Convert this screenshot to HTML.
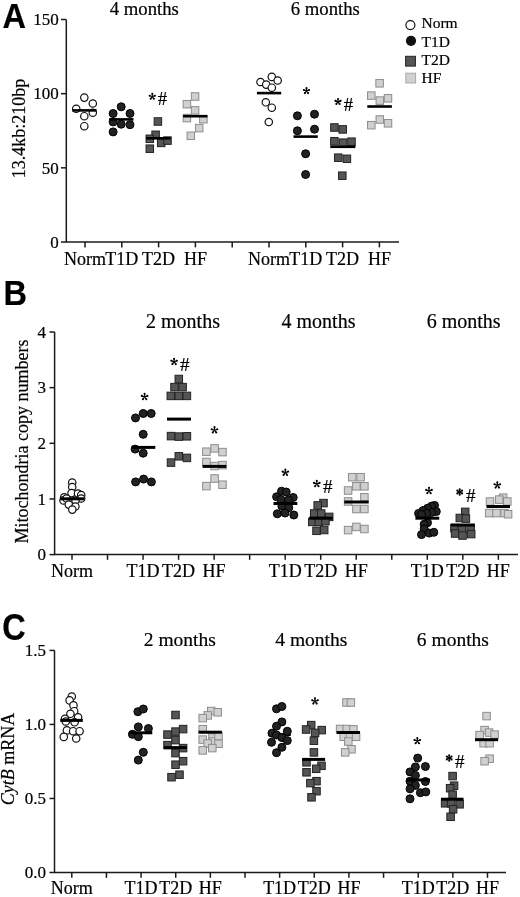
<!DOCTYPE html>
<html><head><meta charset="utf-8"><style>
html,body{margin:0;padding:0;background:#fff;}
body{width:520px;height:897px;overflow:hidden;}
svg{display:block;filter:grayscale(100%);}
text{font-family:"Liberation Serif",serif;fill:#000;stroke:#000;stroke-width:0.2px;}
.ax{stroke:#1a1a1a;stroke-width:1.5;fill:none;}
.pl{font-family:"Liberation Sans",sans-serif;font-weight:bold;font-size:32.5px;fill:#000;}
</style></head><body>
<svg width="520" height="897" viewBox="0 0 520 897">
<rect width="520" height="897" fill="#fff"/>
<line x1="66.3" y1="19.5" x2="66.3" y2="242.0" class="ax"/>
<line x1="65.7" y1="242.0" x2="399" y2="242.0" class="ax"/>
<line x1="61" y1="242.00" x2="66.3" y2="242.00" class="ax"/>
<text x="58.8" y="247.8" font-size="17" text-anchor="end" >0</text>
<line x1="61" y1="167.83" x2="66.3" y2="167.83" class="ax"/>
<text x="58.8" y="173.63333333333333" font-size="17" text-anchor="end" >50</text>
<line x1="61" y1="93.67" x2="66.3" y2="93.67" class="ax"/>
<text x="58.8" y="99.46666666666665" font-size="17" text-anchor="end" >100</text>
<line x1="61" y1="19.50" x2="66.3" y2="19.50" class="ax"/>
<text x="58.8" y="25.3" font-size="17" text-anchor="end" >150</text>
<line x1="85" y1="242.0" x2="85" y2="247.4" class="ax"/>
<line x1="121.8" y1="242.0" x2="121.8" y2="247.4" class="ax"/>
<line x1="158.6" y1="242.0" x2="158.6" y2="247.4" class="ax"/>
<line x1="195.4" y1="242.0" x2="195.4" y2="247.4" class="ax"/>
<line x1="232.2" y1="242.0" x2="232.2" y2="247.4" class="ax"/>
<line x1="269" y1="242.0" x2="269" y2="247.4" class="ax"/>
<line x1="305.8" y1="242.0" x2="305.8" y2="247.4" class="ax"/>
<line x1="342.6" y1="242.0" x2="342.6" y2="247.4" class="ax"/>
<line x1="379.4" y1="242.0" x2="379.4" y2="247.4" class="ax"/>
<text x="85" y="264.5" font-size="18" text-anchor="middle" >Norm</text>
<text x="121.8" y="264.5" font-size="18" text-anchor="middle" >T1D</text>
<text x="158.6" y="264.5" font-size="18" text-anchor="middle" >T2D</text>
<text x="195.4" y="264.5" font-size="18" text-anchor="middle" >HF</text>
<text x="269" y="264.5" font-size="18" text-anchor="middle" >Norm</text>
<text x="305.8" y="264.5" font-size="18" text-anchor="middle" >T1D</text>
<text x="342.6" y="264.5" font-size="18" text-anchor="middle" >T2D</text>
<text x="379.4" y="264.5" font-size="18" text-anchor="middle" >HF</text>
<text x="144.3" y="15.4" font-size="18.7" text-anchor="middle" >4 months</text>
<text x="325.3" y="15.4" font-size="18.7" text-anchor="middle" >6 months</text>
<text x="0" y="0" font-size="18" text-anchor="middle" transform="translate(25,128.4) rotate(-90)">13.4kb:210bp</text>
<circle cx="84.3" cy="97.6" r="3.7" fill="#fff" stroke="#111" stroke-width="1.2"/>
<circle cx="92.8" cy="103.5" r="3.7" fill="#fff" stroke="#111" stroke-width="1.2"/>
<circle cx="76.2" cy="108.8" r="3.7" fill="#fff" stroke="#111" stroke-width="1.2"/>
<circle cx="92.8" cy="112.7" r="3.7" fill="#fff" stroke="#111" stroke-width="1.2"/>
<circle cx="84.3" cy="116.2" r="3.7" fill="#fff" stroke="#111" stroke-width="1.2"/>
<circle cx="84.3" cy="126.2" r="3.7" fill="#fff" stroke="#111" stroke-width="1.2"/>
<line x1="72.3" x2="96.6" y1="110.4" y2="110.4" stroke="#000" stroke-width="2.6"/>
<circle cx="121.2" cy="106.8" r="4.0" fill="#222" stroke="#000" stroke-width="1"/>
<circle cx="113.1" cy="113.5" r="4.0" fill="#222" stroke="#000" stroke-width="1"/>
<circle cx="130" cy="113.5" r="4.0" fill="#222" stroke="#000" stroke-width="1"/>
<circle cx="113.1" cy="121.9" r="4.0" fill="#222" stroke="#000" stroke-width="1"/>
<circle cx="121.2" cy="124.2" r="4.0" fill="#222" stroke="#000" stroke-width="1"/>
<circle cx="130" cy="124.7" r="4.0" fill="#222" stroke="#000" stroke-width="1"/>
<circle cx="113.1" cy="131.9" r="4.0" fill="#222" stroke="#000" stroke-width="1"/>
<line x1="109.2" x2="133.5" y1="119.4" y2="119.4" stroke="#000" stroke-width="2.6"/>
<rect x="154.15" y="117.75" width="7.5" height="7.5" fill="#555" stroke="#222" stroke-width="1"/>
<rect x="151.85" y="131.05" width="7.5" height="7.5" fill="#555" stroke="#222" stroke-width="1"/>
<rect x="146.05" y="135.05" width="7.5" height="7.5" fill="#555" stroke="#222" stroke-width="1"/>
<rect x="157.45" y="139.15" width="7.5" height="7.5" fill="#555" stroke="#222" stroke-width="1"/>
<rect x="163.75" y="136.85" width="7.5" height="7.5" fill="#555" stroke="#222" stroke-width="1"/>
<rect x="146.05" y="144.95" width="7.5" height="7.5" fill="#555" stroke="#222" stroke-width="1"/>
<line x1="146.2" x2="170.6" y1="138.3" y2="138.3" stroke="#000" stroke-width="2.6"/>
<rect x="191.35" y="92.75" width="7.5" height="7.5" fill="#d0d0d0" stroke="#8c8c8c" stroke-width="1"/>
<rect x="183.15" y="100.45" width="7.5" height="7.5" fill="#d0d0d0" stroke="#8c8c8c" stroke-width="1"/>
<rect x="191.35" y="106.65" width="7.5" height="7.5" fill="#d0d0d0" stroke="#8c8c8c" stroke-width="1"/>
<rect x="183.15" y="114.35" width="7.5" height="7.5" fill="#d0d0d0" stroke="#8c8c8c" stroke-width="1"/>
<rect x="199.65" y="115.45" width="7.5" height="7.5" fill="#d0d0d0" stroke="#8c8c8c" stroke-width="1"/>
<rect x="195.45" y="124.35" width="7.5" height="7.5" fill="#d0d0d0" stroke="#8c8c8c" stroke-width="1"/>
<rect x="187.05" y="132.05" width="7.5" height="7.5" fill="#d0d0d0" stroke="#8c8c8c" stroke-width="1"/>
<line x1="183.1" x2="207.4" y1="116.2" y2="116.2" stroke="#000" stroke-width="2.6"/>
<circle cx="271.8" cy="76.9" r="3.7" fill="#fff" stroke="#111" stroke-width="1.2"/>
<circle cx="277.7" cy="80.5" r="3.7" fill="#fff" stroke="#111" stroke-width="1.2"/>
<circle cx="260.5" cy="82" r="3.7" fill="#fff" stroke="#111" stroke-width="1.2"/>
<circle cx="266.2" cy="84.6" r="3.7" fill="#fff" stroke="#111" stroke-width="1.2"/>
<circle cx="271.8" cy="87.7" r="3.7" fill="#fff" stroke="#111" stroke-width="1.2"/>
<circle cx="265.8" cy="102.3" r="3.7" fill="#fff" stroke="#111" stroke-width="1.2"/>
<circle cx="271.8" cy="107.7" r="3.7" fill="#fff" stroke="#111" stroke-width="1.2"/>
<circle cx="268.8" cy="122" r="3.7" fill="#fff" stroke="#111" stroke-width="1.2"/>
<line x1="256.9" x2="281.2" y1="93.1" y2="93.1" stroke="#000" stroke-width="2.6"/>
<circle cx="297.4" cy="115.8" r="4.0" fill="#222" stroke="#000" stroke-width="1"/>
<circle cx="314.5" cy="114.2" r="4.0" fill="#222" stroke="#000" stroke-width="1"/>
<circle cx="297.4" cy="130.8" r="4.0" fill="#222" stroke="#000" stroke-width="1"/>
<circle cx="314.5" cy="129.2" r="4.0" fill="#222" stroke="#000" stroke-width="1"/>
<circle cx="305.6" cy="153.8" r="4.0" fill="#222" stroke="#000" stroke-width="1"/>
<circle cx="305.6" cy="174.5" r="4.0" fill="#222" stroke="#000" stroke-width="1"/>
<line x1="293.5" x2="317.8" y1="136.6" y2="136.6" stroke="#000" stroke-width="2.6"/>
<rect x="330.65" y="123.75" width="7.5" height="7.5" fill="#555" stroke="#222" stroke-width="1"/>
<rect x="338.95" y="125.65" width="7.5" height="7.5" fill="#555" stroke="#222" stroke-width="1"/>
<rect x="330.65" y="137.55" width="7.5" height="7.5" fill="#555" stroke="#222" stroke-width="1"/>
<rect x="339.25" y="138.95" width="7.5" height="7.5" fill="#555" stroke="#222" stroke-width="1"/>
<rect x="347.75" y="137.95" width="7.5" height="7.5" fill="#555" stroke="#222" stroke-width="1"/>
<rect x="334.55" y="153.95" width="7.5" height="7.5" fill="#555" stroke="#222" stroke-width="1"/>
<rect x="343.15" y="155.05" width="7.5" height="7.5" fill="#555" stroke="#222" stroke-width="1"/>
<rect x="338.55" y="171.95" width="7.5" height="7.5" fill="#555" stroke="#222" stroke-width="1"/>
<line x1="330.3" x2="355.4" y1="146.8" y2="146.8" stroke="#000" stroke-width="2.6"/>
<rect x="375.85" y="79.55" width="7.5" height="7.5" fill="#d0d0d0" stroke="#8c8c8c" stroke-width="1"/>
<rect x="367.55" y="91.85" width="7.5" height="7.5" fill="#d0d0d0" stroke="#8c8c8c" stroke-width="1"/>
<rect x="384.25" y="94.55" width="7.5" height="7.5" fill="#d0d0d0" stroke="#8c8c8c" stroke-width="1"/>
<rect x="376.05" y="96.85" width="7.5" height="7.5" fill="#d0d0d0" stroke="#8c8c8c" stroke-width="1"/>
<rect x="376.05" y="115.75" width="7.5" height="7.5" fill="#d0d0d0" stroke="#8c8c8c" stroke-width="1"/>
<rect x="384.25" y="119.55" width="7.5" height="7.5" fill="#d0d0d0" stroke="#8c8c8c" stroke-width="1"/>
<rect x="367.55" y="121.45" width="7.5" height="7.5" fill="#d0d0d0" stroke="#8c8c8c" stroke-width="1"/>
<line x1="367.3" x2="391.9" y1="106.5" y2="106.5" stroke="#000" stroke-width="2.6"/>
<path d="M152.52,96.60 L153.35,93.85 L151.25,93.85 L152.08,96.60Z M153.35,93.85 a1.05,1.05 0 1,0 -2.10,0 a1.05,1.05 0 1,0 2.10,0Z M152.37,96.81 L155.24,96.75 L154.59,94.75 L152.23,96.39Z M155.97,95.75 a1.05,1.05 0 1,0 -2.10,0 a1.05,1.05 0 1,0 2.10,0Z M152.12,96.73 L153.07,99.44 L154.77,98.21 L152.48,96.47Z M154.97,98.82 a1.05,1.05 0 1,0 -2.10,0 a1.05,1.05 0 1,0 2.10,0Z M152.12,96.47 L149.83,98.21 L151.53,99.44 L152.48,96.73Z M151.73,98.82 a1.05,1.05 0 1,0 -2.10,0 a1.05,1.05 0 1,0 2.10,0Z M152.37,96.39 L150.01,94.75 L149.36,96.75 L152.23,96.81Z M150.73,95.75 a1.05,1.05 0 1,0 -2.10,0 a1.05,1.05 0 1,0 2.10,0Z" fill="#000"/>
<text x="157.7" y="105.4" font-size="18.7" text-anchor="start">#</text>
<path d="M306.72,90.90 L307.55,88.15 L305.45,88.15 L306.28,90.90Z M307.55,88.15 a1.05,1.05 0 1,0 -2.10,0 a1.05,1.05 0 1,0 2.10,0Z M306.57,91.11 L309.44,91.05 L308.79,89.05 L306.43,90.69Z M310.17,90.05 a1.05,1.05 0 1,0 -2.10,0 a1.05,1.05 0 1,0 2.10,0Z M306.32,91.03 L307.27,93.74 L308.97,92.51 L306.68,90.77Z M309.17,93.12 a1.05,1.05 0 1,0 -2.10,0 a1.05,1.05 0 1,0 2.10,0Z M306.32,90.77 L304.03,92.51 L305.73,93.74 L306.68,91.03Z M305.93,93.12 a1.05,1.05 0 1,0 -2.10,0 a1.05,1.05 0 1,0 2.10,0Z M306.57,90.69 L304.21,89.05 L303.56,91.05 L306.43,91.11Z M304.93,90.05 a1.05,1.05 0 1,0 -2.10,0 a1.05,1.05 0 1,0 2.10,0Z" fill="#000"/>
<path d="M338.22,101.70 L339.05,98.95 L336.95,98.95 L337.78,101.70Z M339.05,98.95 a1.05,1.05 0 1,0 -2.10,0 a1.05,1.05 0 1,0 2.10,0Z M338.07,101.91 L340.94,101.85 L340.29,99.85 L337.93,101.49Z M341.67,100.85 a1.05,1.05 0 1,0 -2.10,0 a1.05,1.05 0 1,0 2.10,0Z M337.82,101.83 L338.77,104.54 L340.47,103.31 L338.18,101.57Z M340.67,103.92 a1.05,1.05 0 1,0 -2.10,0 a1.05,1.05 0 1,0 2.10,0Z M337.82,101.57 L335.53,103.31 L337.23,104.54 L338.18,101.83Z M337.43,103.92 a1.05,1.05 0 1,0 -2.10,0 a1.05,1.05 0 1,0 2.10,0Z M338.07,101.49 L335.71,99.85 L335.06,101.85 L337.93,101.91Z M336.43,100.85 a1.05,1.05 0 1,0 -2.10,0 a1.05,1.05 0 1,0 2.10,0Z" fill="#000"/>
<text x="343.8" y="110.8" font-size="18.7" text-anchor="start">#</text>
<circle cx="410.4" cy="25.1" r="4.5" fill="#fff" stroke="#111" stroke-width="1.2"/>
<circle cx="411" cy="40.8" r="5.1" fill="#111"/>
<rect x="405.6" y="56.3" width="9.8" height="9.8" fill="#555" stroke="#222" stroke-width="1"/>
<rect x="405.8" y="73.2" width="9.8" height="9.8" fill="#d0d0d0" stroke="#aaa" stroke-width="1"/>
<text x="421.5" y="28.4" font-size="15.5" text-anchor="start" >Norm</text>
<text x="421.5" y="46.5" font-size="15.5" text-anchor="start" >T1D</text>
<text x="421.5" y="64.6" font-size="15.5" text-anchor="start" >T2D</text>
<text x="421.5" y="82.5" font-size="15.5" text-anchor="start" >HF</text>
<text x="0" y="0" class="pl" transform="translate(2.6,27.7) scale(1,1.08)">A</text>
<text x="0" y="0" class="pl" transform="translate(3.4,305) scale(1,1.09)">B</text>
<text x="0" y="0" class="pl" transform="translate(2.2,639.6) scale(1,1.12)">C</text>
<line x1="54.6" y1="332.0" x2="54.6" y2="554.6" class="ax"/>
<line x1="54.0" y1="554.6" x2="518" y2="554.6" class="ax"/>
<line x1="49.5" y1="554.60" x2="54.6" y2="554.60" class="ax"/>
<text x="46" y="560.4" font-size="17" text-anchor="end" >0</text>
<line x1="49.5" y1="498.95" x2="54.6" y2="498.95" class="ax"/>
<text x="46" y="504.75000000000006" font-size="17" text-anchor="end" >1</text>
<line x1="49.5" y1="443.30" x2="54.6" y2="443.30" class="ax"/>
<text x="46" y="449.1" font-size="17" text-anchor="end" >2</text>
<line x1="49.5" y1="387.65" x2="54.6" y2="387.65" class="ax"/>
<text x="46" y="393.45" font-size="17" text-anchor="end" >3</text>
<line x1="49.5" y1="332.00" x2="54.6" y2="332.00" class="ax"/>
<text x="46" y="337.8" font-size="17" text-anchor="end" >4</text>
<line x1="72.00" y1="554.6" x2="72.00" y2="559.8000000000001" class="ax"/>
<line x1="107.53" y1="554.6" x2="107.53" y2="559.8000000000001" class="ax"/>
<line x1="143.06" y1="554.6" x2="143.06" y2="559.8000000000001" class="ax"/>
<line x1="178.59" y1="554.6" x2="178.59" y2="559.8000000000001" class="ax"/>
<line x1="214.12" y1="554.6" x2="214.12" y2="559.8000000000001" class="ax"/>
<line x1="249.65" y1="554.6" x2="249.65" y2="559.8000000000001" class="ax"/>
<line x1="285.18" y1="554.6" x2="285.18" y2="559.8000000000001" class="ax"/>
<line x1="320.71" y1="554.6" x2="320.71" y2="559.8000000000001" class="ax"/>
<line x1="356.24" y1="554.6" x2="356.24" y2="559.8000000000001" class="ax"/>
<line x1="391.77" y1="554.6" x2="391.77" y2="559.8000000000001" class="ax"/>
<line x1="427.30" y1="554.6" x2="427.30" y2="559.8000000000001" class="ax"/>
<line x1="462.83" y1="554.6" x2="462.83" y2="559.8000000000001" class="ax"/>
<line x1="498.36" y1="554.6" x2="498.36" y2="559.8000000000001" class="ax"/>
<text x="72.00" y="576.8" font-size="18" text-anchor="middle" >Norm</text>
<text x="143.06" y="576.8" font-size="18" text-anchor="middle" >T1D</text>
<text x="178.59" y="576.8" font-size="18" text-anchor="middle" >T2D</text>
<text x="214.12" y="576.8" font-size="18" text-anchor="middle" >HF</text>
<text x="285.18" y="576.8" font-size="18" text-anchor="middle" >T1D</text>
<text x="320.71" y="576.8" font-size="18" text-anchor="middle" >T2D</text>
<text x="356.24" y="576.8" font-size="18" text-anchor="middle" >HF</text>
<text x="427.30" y="576.8" font-size="18" text-anchor="middle" >T1D</text>
<text x="462.83" y="576.8" font-size="18" text-anchor="middle" >T2D</text>
<text x="498.36" y="576.8" font-size="18" text-anchor="middle" >HF</text>
<text x="183" y="327.5" font-size="20" text-anchor="middle" >2 months</text>
<text x="318.5" y="327.5" font-size="20" text-anchor="middle" >4 months</text>
<text x="463.7" y="327.5" font-size="20" text-anchor="middle" >6 months</text>
<text x="0" y="0" font-size="18" text-anchor="middle" transform="translate(27.8,441.5) rotate(-90)">Mitochondria copy numbers</text>
<circle cx="72.2" cy="482.5" r="3.7" fill="#fff" stroke="#111" stroke-width="1.2"/>
<circle cx="72.2" cy="487" r="3.7" fill="#fff" stroke="#111" stroke-width="1.2"/>
<circle cx="71.5" cy="493.1" r="3.7" fill="#fff" stroke="#111" stroke-width="1.2"/>
<circle cx="78" cy="493.5" r="3.7" fill="#fff" stroke="#111" stroke-width="1.2"/>
<circle cx="81.2" cy="495" r="3.7" fill="#fff" stroke="#111" stroke-width="1.2"/>
<circle cx="64.2" cy="497.3" r="3.7" fill="#fff" stroke="#111" stroke-width="1.2"/>
<circle cx="63.5" cy="500.4" r="3.7" fill="#fff" stroke="#111" stroke-width="1.2"/>
<circle cx="81.2" cy="498.5" r="3.7" fill="#fff" stroke="#111" stroke-width="1.2"/>
<circle cx="66.5" cy="498.5" r="3.7" fill="#fff" stroke="#111" stroke-width="1.2"/>
<circle cx="75.5" cy="500.5" r="3.7" fill="#fff" stroke="#111" stroke-width="1.2"/>
<circle cx="68.8" cy="504.6" r="3.7" fill="#fff" stroke="#111" stroke-width="1.2"/>
<circle cx="75.4" cy="506.5" r="3.7" fill="#fff" stroke="#111" stroke-width="1.2"/>
<circle cx="72.3" cy="509.6" r="3.7" fill="#fff" stroke="#111" stroke-width="1.2"/>
<line x1="60.2" x2="84.2" y1="498.8" y2="498.8" stroke="#000" stroke-width="3.0"/>
<circle cx="135.5" cy="417.9" r="4.0" fill="#222" stroke="#000" stroke-width="1"/>
<circle cx="143.2" cy="413.5" r="4.0" fill="#222" stroke="#000" stroke-width="1"/>
<circle cx="151.2" cy="413.5" r="4.0" fill="#222" stroke="#000" stroke-width="1"/>
<circle cx="143.2" cy="434.3" r="4.0" fill="#222" stroke="#000" stroke-width="1"/>
<circle cx="135.1" cy="449.1" r="4.0" fill="#222" stroke="#000" stroke-width="1"/>
<circle cx="143.2" cy="453.2" r="4.0" fill="#222" stroke="#000" stroke-width="1"/>
<circle cx="135.6" cy="481.9" r="4.0" fill="#222" stroke="#000" stroke-width="1"/>
<circle cx="143.6" cy="479.1" r="4.0" fill="#222" stroke="#000" stroke-width="1"/>
<circle cx="151.4" cy="481.9" r="4.0" fill="#222" stroke="#000" stroke-width="1"/>
<line x1="131.7" x2="155.3" y1="447.4" y2="447.4" stroke="#000" stroke-width="3.0"/>
<rect x="175.05" y="375.25" width="7.5" height="7.5" fill="#555" stroke="#222" stroke-width="1"/>
<rect x="170.75" y="383.35" width="7.5" height="7.5" fill="#555" stroke="#222" stroke-width="1"/>
<rect x="178.85" y="383.35" width="7.5" height="7.5" fill="#555" stroke="#222" stroke-width="1"/>
<rect x="167.05" y="392.15" width="7.5" height="7.5" fill="#555" stroke="#222" stroke-width="1"/>
<rect x="175.05" y="392.15" width="7.5" height="7.5" fill="#555" stroke="#222" stroke-width="1"/>
<rect x="183.15" y="392.15" width="7.5" height="7.5" fill="#555" stroke="#222" stroke-width="1"/>
<rect x="167.25" y="432.35" width="7.5" height="7.5" fill="#555" stroke="#222" stroke-width="1"/>
<rect x="175.05" y="432.85" width="7.5" height="7.5" fill="#555" stroke="#222" stroke-width="1"/>
<rect x="183.15" y="432.55" width="7.5" height="7.5" fill="#555" stroke="#222" stroke-width="1"/>
<rect x="175.05" y="452.55" width="7.5" height="7.5" fill="#555" stroke="#222" stroke-width="1"/>
<rect x="183.15" y="454.15" width="7.5" height="7.5" fill="#555" stroke="#222" stroke-width="1"/>
<rect x="167.25" y="458.85" width="7.5" height="7.5" fill="#555" stroke="#222" stroke-width="1"/>
<line x1="167" x2="191" y1="419.1" y2="419.1" stroke="#000" stroke-width="3.0"/>
<rect x="210.85" y="444.65" width="7.5" height="7.5" fill="#d0d0d0" stroke="#8c8c8c" stroke-width="1"/>
<rect x="202.65" y="447.95" width="7.5" height="7.5" fill="#d0d0d0" stroke="#8c8c8c" stroke-width="1"/>
<rect x="218.75" y="448.35" width="7.5" height="7.5" fill="#d0d0d0" stroke="#8c8c8c" stroke-width="1"/>
<rect x="202.65" y="458.25" width="7.5" height="7.5" fill="#d0d0d0" stroke="#8c8c8c" stroke-width="1"/>
<rect x="210.85" y="462.25" width="7.5" height="7.5" fill="#d0d0d0" stroke="#8c8c8c" stroke-width="1"/>
<rect x="218.75" y="461.35" width="7.5" height="7.5" fill="#d0d0d0" stroke="#8c8c8c" stroke-width="1"/>
<rect x="210.85" y="474.75" width="7.5" height="7.5" fill="#d0d0d0" stroke="#8c8c8c" stroke-width="1"/>
<rect x="218.75" y="480.95" width="7.5" height="7.5" fill="#d0d0d0" stroke="#8c8c8c" stroke-width="1"/>
<rect x="202.65" y="482.35" width="7.5" height="7.5" fill="#d0d0d0" stroke="#8c8c8c" stroke-width="1"/>
<line x1="202.6" x2="226.3" y1="466.4" y2="466.4" stroke="#000" stroke-width="3.0"/>
<path d="M144.82,396.80 L145.65,393.85 L143.55,393.85 L144.38,396.80Z M145.65,393.85 a1.05,1.05 0 1,0 -2.10,0 a1.05,1.05 0 1,0 2.10,0Z M144.67,397.01 L147.73,396.89 L147.08,394.89 L144.53,396.59Z M148.46,395.89 a1.05,1.05 0 1,0 -2.10,0 a1.05,1.05 0 1,0 2.10,0Z M144.42,396.93 L145.48,399.80 L147.18,398.57 L144.78,396.67Z M147.38,399.19 a1.05,1.05 0 1,0 -2.10,0 a1.05,1.05 0 1,0 2.10,0Z M144.42,396.67 L142.02,398.57 L143.72,399.80 L144.78,396.93Z M143.92,399.19 a1.05,1.05 0 1,0 -2.10,0 a1.05,1.05 0 1,0 2.10,0Z M144.67,396.59 L142.12,394.89 L141.47,396.89 L144.53,397.01Z M142.84,395.89 a1.05,1.05 0 1,0 -2.10,0 a1.05,1.05 0 1,0 2.10,0Z" fill="#000"/>
<path d="M174.32,361.70 L175.15,358.75 L173.05,358.75 L173.88,361.70Z M175.15,358.75 a1.05,1.05 0 1,0 -2.10,0 a1.05,1.05 0 1,0 2.10,0Z M174.17,361.91 L177.23,361.79 L176.58,359.79 L174.03,361.49Z M177.96,360.79 a1.05,1.05 0 1,0 -2.10,0 a1.05,1.05 0 1,0 2.10,0Z M173.92,361.83 L174.98,364.70 L176.68,363.47 L174.28,361.57Z M176.88,364.09 a1.05,1.05 0 1,0 -2.10,0 a1.05,1.05 0 1,0 2.10,0Z M173.92,361.57 L171.52,363.47 L173.22,364.70 L174.28,361.83Z M173.42,364.09 a1.05,1.05 0 1,0 -2.10,0 a1.05,1.05 0 1,0 2.10,0Z M174.17,361.49 L171.62,359.79 L170.97,361.79 L174.03,361.91Z M172.34,360.79 a1.05,1.05 0 1,0 -2.10,0 a1.05,1.05 0 1,0 2.10,0Z" fill="#000"/>
<text x="180.1" y="370.8" font-size="19" text-anchor="start">#</text>
<path d="M214.72,430.10 L215.55,427.15 L213.45,427.15 L214.28,430.10Z M215.55,427.15 a1.05,1.05 0 1,0 -2.10,0 a1.05,1.05 0 1,0 2.10,0Z M214.57,430.31 L217.63,430.19 L216.98,428.19 L214.43,429.89Z M218.36,429.19 a1.05,1.05 0 1,0 -2.10,0 a1.05,1.05 0 1,0 2.10,0Z M214.32,430.23 L215.38,433.10 L217.08,431.87 L214.68,429.97Z M217.28,432.49 a1.05,1.05 0 1,0 -2.10,0 a1.05,1.05 0 1,0 2.10,0Z M214.32,429.97 L211.92,431.87 L213.62,433.10 L214.68,430.23Z M213.82,432.49 a1.05,1.05 0 1,0 -2.10,0 a1.05,1.05 0 1,0 2.10,0Z M214.57,429.89 L212.02,428.19 L211.37,430.19 L214.43,430.31Z M212.74,429.19 a1.05,1.05 0 1,0 -2.10,0 a1.05,1.05 0 1,0 2.10,0Z" fill="#000"/>
<circle cx="281.5" cy="491.2" r="4.0" fill="#222" stroke="#000" stroke-width="1"/>
<circle cx="286.2" cy="492" r="4.0" fill="#222" stroke="#000" stroke-width="1"/>
<circle cx="276.6" cy="496.8" r="4.0" fill="#222" stroke="#000" stroke-width="1"/>
<circle cx="293.2" cy="497.5" r="4.0" fill="#222" stroke="#000" stroke-width="1"/>
<circle cx="281" cy="499.5" r="4.0" fill="#222" stroke="#000" stroke-width="1"/>
<circle cx="288.5" cy="500" r="4.0" fill="#222" stroke="#000" stroke-width="1"/>
<circle cx="281.9" cy="506.2" r="4.0" fill="#222" stroke="#000" stroke-width="1"/>
<circle cx="288.8" cy="507.7" r="4.0" fill="#222" stroke="#000" stroke-width="1"/>
<circle cx="277.3" cy="513.8" r="4.0" fill="#222" stroke="#000" stroke-width="1"/>
<circle cx="285" cy="513" r="4.0" fill="#222" stroke="#000" stroke-width="1"/>
<circle cx="293.8" cy="515" r="4.0" fill="#222" stroke="#000" stroke-width="1"/>
<line x1="273.5" x2="297.3" y1="503.5" y2="503.5" stroke="#000" stroke-width="3.0"/>
<rect x="319.75" y="499.35" width="7.5" height="7.5" fill="#555" stroke="#222" stroke-width="1"/>
<rect x="313.95" y="501.65" width="7.5" height="7.5" fill="#555" stroke="#222" stroke-width="1"/>
<rect x="310.45" y="509.75" width="7.5" height="7.5" fill="#555" stroke="#222" stroke-width="1"/>
<rect x="317.45" y="509.75" width="7.5" height="7.5" fill="#555" stroke="#222" stroke-width="1"/>
<rect x="325.45" y="513.15" width="7.5" height="7.5" fill="#555" stroke="#222" stroke-width="1"/>
<rect x="308.55" y="518.15" width="7.5" height="7.5" fill="#555" stroke="#222" stroke-width="1"/>
<rect x="315.05" y="518.15" width="7.5" height="7.5" fill="#555" stroke="#222" stroke-width="1"/>
<rect x="321.65" y="517.45" width="7.5" height="7.5" fill="#555" stroke="#222" stroke-width="1"/>
<rect x="312.75" y="527.05" width="7.5" height="7.5" fill="#555" stroke="#222" stroke-width="1"/>
<rect x="320.45" y="526.25" width="7.5" height="7.5" fill="#555" stroke="#222" stroke-width="1"/>
<line x1="309.2" x2="332.7" y1="518.2" y2="518.2" stroke="#000" stroke-width="3.0"/>
<rect x="348.45" y="473.45" width="7.5" height="7.5" fill="#d0d0d0" stroke="#8c8c8c" stroke-width="1"/>
<rect x="356.85" y="473.45" width="7.5" height="7.5" fill="#d0d0d0" stroke="#8c8c8c" stroke-width="1"/>
<rect x="352.65" y="482.55" width="7.5" height="7.5" fill="#d0d0d0" stroke="#8c8c8c" stroke-width="1"/>
<rect x="360.65" y="482.55" width="7.5" height="7.5" fill="#d0d0d0" stroke="#8c8c8c" stroke-width="1"/>
<rect x="344.35" y="486.75" width="7.5" height="7.5" fill="#d0d0d0" stroke="#8c8c8c" stroke-width="1"/>
<rect x="360.65" y="493.55" width="7.5" height="7.5" fill="#d0d0d0" stroke="#8c8c8c" stroke-width="1"/>
<rect x="344.35" y="497.75" width="7.5" height="7.5" fill="#d0d0d0" stroke="#8c8c8c" stroke-width="1"/>
<rect x="352.65" y="505.25" width="7.5" height="7.5" fill="#d0d0d0" stroke="#8c8c8c" stroke-width="1"/>
<rect x="360.65" y="505.25" width="7.5" height="7.5" fill="#d0d0d0" stroke="#8c8c8c" stroke-width="1"/>
<rect x="352.65" y="523.15" width="7.5" height="7.5" fill="#d0d0d0" stroke="#8c8c8c" stroke-width="1"/>
<rect x="360.65" y="525.25" width="7.5" height="7.5" fill="#d0d0d0" stroke="#8c8c8c" stroke-width="1"/>
<rect x="344.35" y="526.35" width="7.5" height="7.5" fill="#d0d0d0" stroke="#8c8c8c" stroke-width="1"/>
<line x1="344.3" x2="368.7" y1="502" y2="502" stroke="#000" stroke-width="3.0"/>
<path d="M285.52,472.50 L286.35,469.55 L284.25,469.55 L285.08,472.50Z M286.35,469.55 a1.05,1.05 0 1,0 -2.10,0 a1.05,1.05 0 1,0 2.10,0Z M285.37,472.71 L288.43,472.59 L287.78,470.59 L285.23,472.29Z M289.16,471.59 a1.05,1.05 0 1,0 -2.10,0 a1.05,1.05 0 1,0 2.10,0Z M285.12,472.63 L286.18,475.50 L287.88,474.27 L285.48,472.37Z M288.08,474.89 a1.05,1.05 0 1,0 -2.10,0 a1.05,1.05 0 1,0 2.10,0Z M285.12,472.37 L282.72,474.27 L284.42,475.50 L285.48,472.63Z M284.62,474.89 a1.05,1.05 0 1,0 -2.10,0 a1.05,1.05 0 1,0 2.10,0Z M285.37,472.29 L282.82,470.59 L282.17,472.59 L285.23,472.71Z M283.54,471.59 a1.05,1.05 0 1,0 -2.10,0 a1.05,1.05 0 1,0 2.10,0Z" fill="#000"/>
<path d="M317.02,483.80 L317.85,480.85 L315.75,480.85 L316.58,483.80Z M317.85,480.85 a1.05,1.05 0 1,0 -2.10,0 a1.05,1.05 0 1,0 2.10,0Z M316.87,484.01 L319.93,483.89 L319.28,481.89 L316.73,483.59Z M320.66,482.89 a1.05,1.05 0 1,0 -2.10,0 a1.05,1.05 0 1,0 2.10,0Z M316.62,483.93 L317.68,486.80 L319.38,485.57 L316.98,483.67Z M319.58,486.19 a1.05,1.05 0 1,0 -2.10,0 a1.05,1.05 0 1,0 2.10,0Z M316.62,483.67 L314.22,485.57 L315.92,486.80 L316.98,483.93Z M316.12,486.19 a1.05,1.05 0 1,0 -2.10,0 a1.05,1.05 0 1,0 2.10,0Z M316.87,483.59 L314.32,481.89 L313.67,483.89 L316.73,484.01Z M315.04,482.89 a1.05,1.05 0 1,0 -2.10,0 a1.05,1.05 0 1,0 2.10,0Z" fill="#000"/>
<text x="323" y="493" font-size="19" text-anchor="start">#</text>
<circle cx="434.5" cy="505.4" r="4.0" fill="#222" stroke="#000" stroke-width="1"/>
<circle cx="431.5" cy="506.2" r="4.0" fill="#222" stroke="#000" stroke-width="1"/>
<circle cx="427.5" cy="508.3" r="4.0" fill="#222" stroke="#000" stroke-width="1"/>
<circle cx="423" cy="510.6" r="4.0" fill="#222" stroke="#000" stroke-width="1"/>
<circle cx="418.6" cy="513.4" r="4.0" fill="#222" stroke="#000" stroke-width="1"/>
<circle cx="436.3" cy="511.5" r="4.0" fill="#222" stroke="#000" stroke-width="1"/>
<circle cx="431.5" cy="512.5" r="4.0" fill="#222" stroke="#000" stroke-width="1"/>
<circle cx="426.5" cy="513.5" r="4.0" fill="#222" stroke="#000" stroke-width="1"/>
<circle cx="421.5" cy="514.5" r="4.0" fill="#222" stroke="#000" stroke-width="1"/>
<circle cx="427.5" cy="522.7" r="4.0" fill="#222" stroke="#000" stroke-width="1"/>
<circle cx="424.2" cy="524.2" r="4.0" fill="#222" stroke="#000" stroke-width="1"/>
<circle cx="424.2" cy="528.8" r="4.0" fill="#222" stroke="#000" stroke-width="1"/>
<circle cx="421.5" cy="534.6" r="4.0" fill="#222" stroke="#000" stroke-width="1"/>
<circle cx="429.2" cy="533.1" r="4.0" fill="#222" stroke="#000" stroke-width="1"/>
<circle cx="433.8" cy="532.3" r="4.0" fill="#222" stroke="#000" stroke-width="1"/>
<line x1="415.4" x2="439.2" y1="518.2" y2="518.2" stroke="#000" stroke-width="3.0"/>
<rect x="461.45" y="508.15" width="7.5" height="7.5" fill="#555" stroke="#222" stroke-width="1"/>
<rect x="456.05" y="514.25" width="7.5" height="7.5" fill="#555" stroke="#222" stroke-width="1"/>
<rect x="462.15" y="514.85" width="7.5" height="7.5" fill="#555" stroke="#222" stroke-width="1"/>
<rect x="450.65" y="524.35" width="7.5" height="7.5" fill="#555" stroke="#222" stroke-width="1"/>
<rect x="458.05" y="525.65" width="7.5" height="7.5" fill="#555" stroke="#222" stroke-width="1"/>
<rect x="466.85" y="525.65" width="7.5" height="7.5" fill="#555" stroke="#222" stroke-width="1"/>
<rect x="451.35" y="529.75" width="7.5" height="7.5" fill="#555" stroke="#222" stroke-width="1"/>
<rect x="458.75" y="531.75" width="7.5" height="7.5" fill="#555" stroke="#222" stroke-width="1"/>
<rect x="467.45" y="530.35" width="7.5" height="7.5" fill="#555" stroke="#222" stroke-width="1"/>
<line x1="451" x2="474.9" y1="525" y2="525" stroke="#000" stroke-width="3.0"/>
<rect x="499.35" y="493.95" width="7.5" height="7.5" fill="#d0d0d0" stroke="#8c8c8c" stroke-width="1"/>
<rect x="495.45" y="495.85" width="7.5" height="7.5" fill="#d0d0d0" stroke="#8c8c8c" stroke-width="1"/>
<rect x="486.25" y="497.75" width="7.5" height="7.5" fill="#d0d0d0" stroke="#8c8c8c" stroke-width="1"/>
<rect x="503.55" y="497.75" width="7.5" height="7.5" fill="#d0d0d0" stroke="#8c8c8c" stroke-width="1"/>
<rect x="485.45" y="509.35" width="7.5" height="7.5" fill="#d0d0d0" stroke="#8c8c8c" stroke-width="1"/>
<rect x="492.75" y="509.35" width="7.5" height="7.5" fill="#d0d0d0" stroke="#8c8c8c" stroke-width="1"/>
<rect x="500.85" y="509.35" width="7.5" height="7.5" fill="#d0d0d0" stroke="#8c8c8c" stroke-width="1"/>
<rect x="504.35" y="510.45" width="7.5" height="7.5" fill="#d0d0d0" stroke="#8c8c8c" stroke-width="1"/>
<line x1="486.5" x2="510" y1="506.5" y2="506.5" stroke="#000" stroke-width="3.0"/>
<path d="M429.22,490.80 L430.05,487.85 L427.95,487.85 L428.78,490.80Z M430.05,487.85 a1.05,1.05 0 1,0 -2.10,0 a1.05,1.05 0 1,0 2.10,0Z M429.07,491.01 L432.13,490.89 L431.48,488.89 L428.93,490.59Z M432.86,489.89 a1.05,1.05 0 1,0 -2.10,0 a1.05,1.05 0 1,0 2.10,0Z M428.82,490.93 L429.88,493.80 L431.58,492.57 L429.18,490.67Z M431.78,493.19 a1.05,1.05 0 1,0 -2.10,0 a1.05,1.05 0 1,0 2.10,0Z M428.82,490.67 L426.42,492.57 L428.12,493.80 L429.18,490.93Z M428.32,493.19 a1.05,1.05 0 1,0 -2.10,0 a1.05,1.05 0 1,0 2.10,0Z M429.07,490.59 L426.52,488.89 L425.87,490.89 L428.93,491.01Z M427.24,489.89 a1.05,1.05 0 1,0 -2.10,0 a1.05,1.05 0 1,0 2.10,0Z" fill="#000"/>
<path d="M459.92,492.00 L460.75,489.25 L458.65,489.25 L459.48,492.00Z M460.75,489.25 a1.05,1.05 0 1,0 -2.10,0 a1.05,1.05 0 1,0 2.10,0Z M459.81,492.19 L462.61,491.53 L461.56,489.72 L459.59,491.81Z M463.13,490.62 a1.05,1.05 0 1,0 -2.10,0 a1.05,1.05 0 1,0 2.10,0Z M459.59,492.19 L461.56,494.28 L462.61,492.47 L459.81,491.81Z M463.13,493.38 a1.05,1.05 0 1,0 -2.10,0 a1.05,1.05 0 1,0 2.10,0Z M459.48,492.00 L458.65,494.75 L460.75,494.75 L459.92,492.00Z M460.75,494.75 a1.05,1.05 0 1,0 -2.10,0 a1.05,1.05 0 1,0 2.10,0Z M459.59,491.81 L456.79,492.47 L457.84,494.28 L459.81,492.19Z M458.37,493.38 a1.05,1.05 0 1,0 -2.10,0 a1.05,1.05 0 1,0 2.10,0Z M459.81,491.81 L457.84,489.72 L456.79,491.53 L459.59,492.19Z M458.37,490.62 a1.05,1.05 0 1,0 -2.10,0 a1.05,1.05 0 1,0 2.10,0Z" fill="#000"/>
<text x="466.1" y="501.8" font-size="19" text-anchor="start">#</text>
<path d="M497.52,485.20 L498.35,482.25 L496.25,482.25 L497.08,485.20Z M498.35,482.25 a1.05,1.05 0 1,0 -2.10,0 a1.05,1.05 0 1,0 2.10,0Z M497.37,485.41 L500.43,485.29 L499.78,483.29 L497.23,484.99Z M501.16,484.29 a1.05,1.05 0 1,0 -2.10,0 a1.05,1.05 0 1,0 2.10,0Z M497.12,485.33 L498.18,488.20 L499.88,486.97 L497.48,485.07Z M500.08,487.59 a1.05,1.05 0 1,0 -2.10,0 a1.05,1.05 0 1,0 2.10,0Z M497.12,485.07 L494.72,486.97 L496.42,488.20 L497.48,485.33Z M496.62,487.59 a1.05,1.05 0 1,0 -2.10,0 a1.05,1.05 0 1,0 2.10,0Z M497.37,484.99 L494.82,483.29 L494.17,485.29 L497.23,485.41Z M495.54,484.29 a1.05,1.05 0 1,0 -2.10,0 a1.05,1.05 0 1,0 2.10,0Z" fill="#000"/>
<line x1="54.5" y1="650.4" x2="54.5" y2="872.5" class="ax"/>
<line x1="53.9" y1="872.5" x2="506" y2="872.5" class="ax"/>
<line x1="49.5" y1="872.50" x2="54.5" y2="872.50" class="ax"/>
<text x="46" y="878.3" font-size="17" text-anchor="end" >0.0</text>
<line x1="49.5" y1="798.47" x2="54.5" y2="798.47" class="ax"/>
<text x="46" y="804.2666666666667" font-size="17" text-anchor="end" >0.5</text>
<line x1="49.5" y1="724.43" x2="54.5" y2="724.43" class="ax"/>
<text x="46" y="730.2333333333332" font-size="17" text-anchor="end" >1.0</text>
<line x1="49.5" y1="650.40" x2="54.5" y2="650.40" class="ax"/>
<text x="46" y="656.1999999999999" font-size="17" text-anchor="end" >1.5</text>
<line x1="71.80" y1="872.5" x2="71.80" y2="877.8" class="ax"/>
<line x1="106.44" y1="872.5" x2="106.44" y2="877.8" class="ax"/>
<line x1="141.08" y1="872.5" x2="141.08" y2="877.8" class="ax"/>
<line x1="175.72" y1="872.5" x2="175.72" y2="877.8" class="ax"/>
<line x1="210.36" y1="872.5" x2="210.36" y2="877.8" class="ax"/>
<line x1="245.00" y1="872.5" x2="245.00" y2="877.8" class="ax"/>
<line x1="279.64" y1="872.5" x2="279.64" y2="877.8" class="ax"/>
<line x1="314.28" y1="872.5" x2="314.28" y2="877.8" class="ax"/>
<line x1="348.92" y1="872.5" x2="348.92" y2="877.8" class="ax"/>
<line x1="383.56" y1="872.5" x2="383.56" y2="877.8" class="ax"/>
<line x1="418.20" y1="872.5" x2="418.20" y2="877.8" class="ax"/>
<line x1="452.84" y1="872.5" x2="452.84" y2="877.8" class="ax"/>
<line x1="487.48" y1="872.5" x2="487.48" y2="877.8" class="ax"/>
<text x="71.80" y="893.8" font-size="18" text-anchor="middle" >Norm</text>
<text x="141.08" y="893.8" font-size="18" text-anchor="middle" >T1D</text>
<text x="175.72" y="893.8" font-size="18" text-anchor="middle" >T2D</text>
<text x="210.36" y="893.8" font-size="18" text-anchor="middle" >HF</text>
<text x="279.64" y="893.8" font-size="18" text-anchor="middle" >T1D</text>
<text x="314.28" y="893.8" font-size="18" text-anchor="middle" >T2D</text>
<text x="348.92" y="893.8" font-size="18" text-anchor="middle" >HF</text>
<text x="418.20" y="893.8" font-size="18" text-anchor="middle" >T1D</text>
<text x="452.84" y="893.8" font-size="18" text-anchor="middle" >T2D</text>
<text x="487.48" y="893.8" font-size="18" text-anchor="middle" >HF</text>
<text x="179.8" y="645.5" font-size="19.5" text-anchor="middle" >2 months</text>
<text x="311.3" y="645.5" font-size="19.5" text-anchor="middle" >4 months</text>
<text x="452.9" y="645.5" font-size="19.5" text-anchor="middle" >6 months</text>
<text x="0" y="0" font-size="18" text-anchor="middle" transform="translate(14.2,758.9) rotate(-90)"><tspan font-style="italic">CytB</tspan> mRNA</text>
<circle cx="71.8" cy="696.5" r="3.7" fill="#fff" stroke="#111" stroke-width="1.2"/>
<circle cx="69.6" cy="700.4" r="3.7" fill="#fff" stroke="#111" stroke-width="1.2"/>
<circle cx="73.5" cy="705.4" r="3.7" fill="#fff" stroke="#111" stroke-width="1.2"/>
<circle cx="74.2" cy="711.2" r="3.7" fill="#fff" stroke="#111" stroke-width="1.2"/>
<circle cx="70.4" cy="713.8" r="3.7" fill="#fff" stroke="#111" stroke-width="1.2"/>
<circle cx="78.1" cy="717.3" r="3.7" fill="#fff" stroke="#111" stroke-width="1.2"/>
<circle cx="65" cy="718.8" r="3.7" fill="#fff" stroke="#111" stroke-width="1.2"/>
<circle cx="65.8" cy="721.5" r="3.7" fill="#fff" stroke="#111" stroke-width="1.2"/>
<circle cx="74.6" cy="722.3" r="3.7" fill="#fff" stroke="#111" stroke-width="1.2"/>
<circle cx="66.9" cy="730.4" r="3.7" fill="#fff" stroke="#111" stroke-width="1.2"/>
<circle cx="73.1" cy="731.2" r="3.7" fill="#fff" stroke="#111" stroke-width="1.2"/>
<circle cx="79.6" cy="731.2" r="3.7" fill="#fff" stroke="#111" stroke-width="1.2"/>
<circle cx="63.8" cy="736.9" r="3.7" fill="#fff" stroke="#111" stroke-width="1.2"/>
<circle cx="76.2" cy="738.5" r="3.7" fill="#fff" stroke="#111" stroke-width="1.2"/>
<line x1="60.2" x2="82.8" y1="720.4" y2="720.4" stroke="#000" stroke-width="3.0"/>
<circle cx="137.9" cy="711.7" r="4.0" fill="#222" stroke="#000" stroke-width="1"/>
<circle cx="143.3" cy="709" r="4.0" fill="#222" stroke="#000" stroke-width="1"/>
<circle cx="138.3" cy="726.9" r="4.0" fill="#222" stroke="#000" stroke-width="1"/>
<circle cx="148.4" cy="728.5" r="4.0" fill="#222" stroke="#000" stroke-width="1"/>
<circle cx="132.4" cy="734.3" r="4.0" fill="#222" stroke="#000" stroke-width="1"/>
<circle cx="138.3" cy="736.7" r="4.0" fill="#222" stroke="#000" stroke-width="1"/>
<circle cx="143.3" cy="752.3" r="4.0" fill="#222" stroke="#000" stroke-width="1"/>
<circle cx="138.3" cy="760.1" r="4.0" fill="#222" stroke="#000" stroke-width="1"/>
<line x1="129.3" x2="152.3" y1="732.8" y2="732.8" stroke="#000" stroke-width="3.0"/>
<rect x="171.75" y="711.25" width="7.5" height="7.5" fill="#555" stroke="#222" stroke-width="1"/>
<rect x="179.35" y="725.35" width="7.5" height="7.5" fill="#555" stroke="#222" stroke-width="1"/>
<rect x="171.75" y="727.85" width="7.5" height="7.5" fill="#555" stroke="#222" stroke-width="1"/>
<rect x="163.75" y="730.85" width="7.5" height="7.5" fill="#555" stroke="#222" stroke-width="1"/>
<rect x="171.75" y="736.35" width="7.5" height="7.5" fill="#555" stroke="#222" stroke-width="1"/>
<rect x="163.75" y="741.35" width="7.5" height="7.5" fill="#555" stroke="#222" stroke-width="1"/>
<rect x="179.35" y="744.35" width="7.5" height="7.5" fill="#555" stroke="#222" stroke-width="1"/>
<rect x="171.75" y="749.35" width="7.5" height="7.5" fill="#555" stroke="#222" stroke-width="1"/>
<rect x="179.35" y="757.45" width="7.5" height="7.5" fill="#555" stroke="#222" stroke-width="1"/>
<rect x="171.75" y="760.95" width="7.5" height="7.5" fill="#555" stroke="#222" stroke-width="1"/>
<rect x="175.75" y="770.95" width="7.5" height="7.5" fill="#555" stroke="#222" stroke-width="1"/>
<rect x="167.75" y="773.45" width="7.5" height="7.5" fill="#555" stroke="#222" stroke-width="1"/>
<line x1="164" x2="186.9" y1="747.6" y2="747.6" stroke="#000" stroke-width="3.0"/>
<rect x="207.45" y="707.25" width="7.5" height="7.5" fill="#d0d0d0" stroke="#8c8c8c" stroke-width="1"/>
<rect x="213.95" y="708.55" width="7.5" height="7.5" fill="#d0d0d0" stroke="#8c8c8c" stroke-width="1"/>
<rect x="203.95" y="711.65" width="7.5" height="7.5" fill="#d0d0d0" stroke="#8c8c8c" stroke-width="1"/>
<rect x="198.95" y="714.35" width="7.5" height="7.5" fill="#d0d0d0" stroke="#8c8c8c" stroke-width="1"/>
<rect x="198.95" y="725.45" width="7.5" height="7.5" fill="#d0d0d0" stroke="#8c8c8c" stroke-width="1"/>
<rect x="208.75" y="733.85" width="7.5" height="7.5" fill="#d0d0d0" stroke="#8c8c8c" stroke-width="1"/>
<rect x="209.25" y="737.75" width="7.5" height="7.5" fill="#d0d0d0" stroke="#8c8c8c" stroke-width="1"/>
<rect x="214.75" y="732.45" width="7.5" height="7.5" fill="#d0d0d0" stroke="#8c8c8c" stroke-width="1"/>
<rect x="198.95" y="735.85" width="7.5" height="7.5" fill="#d0d0d0" stroke="#8c8c8c" stroke-width="1"/>
<rect x="203.95" y="739.75" width="7.5" height="7.5" fill="#d0d0d0" stroke="#8c8c8c" stroke-width="1"/>
<rect x="214.75" y="740.05" width="7.5" height="7.5" fill="#d0d0d0" stroke="#8c8c8c" stroke-width="1"/>
<rect x="208.55" y="744.35" width="7.5" height="7.5" fill="#d0d0d0" stroke="#8c8c8c" stroke-width="1"/>
<rect x="198.95" y="746.65" width="7.5" height="7.5" fill="#d0d0d0" stroke="#8c8c8c" stroke-width="1"/>
<line x1="198.5" x2="221.9" y1="732.2" y2="732.2" stroke="#000" stroke-width="3.0"/>
<line x1="268.5" x2="290.7" y1="734.5" y2="734.5" stroke="#000" stroke-width="3.0"/>
<circle cx="276.5" cy="708.8" r="4.0" fill="#222" stroke="#000" stroke-width="1"/>
<circle cx="281.9" cy="706.5" r="4.0" fill="#222" stroke="#000" stroke-width="1"/>
<circle cx="281.9" cy="721.9" r="4.0" fill="#222" stroke="#000" stroke-width="1"/>
<circle cx="276.5" cy="726.2" r="4.0" fill="#222" stroke="#000" stroke-width="1"/>
<circle cx="272" cy="733.2" r="4.0" fill="#222" stroke="#000" stroke-width="1"/>
<circle cx="287.3" cy="731.3" r="4.0" fill="#222" stroke="#000" stroke-width="1"/>
<circle cx="276.5" cy="735" r="4.0" fill="#222" stroke="#000" stroke-width="1"/>
<circle cx="281.9" cy="737.6" r="4.0" fill="#222" stroke="#000" stroke-width="1"/>
<circle cx="287.3" cy="740.6" r="4.0" fill="#222" stroke="#000" stroke-width="1"/>
<circle cx="271.5" cy="742.3" r="4.0" fill="#222" stroke="#000" stroke-width="1"/>
<circle cx="281.9" cy="747.3" r="4.0" fill="#222" stroke="#000" stroke-width="1"/>
<circle cx="276.5" cy="752.7" r="4.0" fill="#222" stroke="#000" stroke-width="1"/>
<rect x="307.45" y="721.35" width="7.5" height="7.5" fill="#555" stroke="#222" stroke-width="1"/>
<rect x="302.35" y="725.75" width="7.5" height="7.5" fill="#555" stroke="#222" stroke-width="1"/>
<rect x="317.95" y="726.35" width="7.5" height="7.5" fill="#555" stroke="#222" stroke-width="1"/>
<rect x="311.35" y="729.15" width="7.5" height="7.5" fill="#555" stroke="#222" stroke-width="1"/>
<rect x="310.15" y="736.95" width="7.5" height="7.5" fill="#555" stroke="#222" stroke-width="1"/>
<rect x="310.15" y="748.65" width="7.5" height="7.5" fill="#555" stroke="#222" stroke-width="1"/>
<rect x="302.75" y="758.55" width="7.5" height="7.5" fill="#555" stroke="#222" stroke-width="1"/>
<rect x="317.75" y="762.05" width="7.5" height="7.5" fill="#555" stroke="#222" stroke-width="1"/>
<rect x="312.45" y="765.05" width="7.5" height="7.5" fill="#555" stroke="#222" stroke-width="1"/>
<rect x="302.75" y="768.55" width="7.5" height="7.5" fill="#555" stroke="#222" stroke-width="1"/>
<rect x="312.75" y="777.45" width="7.5" height="7.5" fill="#555" stroke="#222" stroke-width="1"/>
<rect x="306.65" y="779.35" width="7.5" height="7.5" fill="#555" stroke="#222" stroke-width="1"/>
<rect x="312.75" y="787.45" width="7.5" height="7.5" fill="#555" stroke="#222" stroke-width="1"/>
<rect x="307.75" y="793.55" width="7.5" height="7.5" fill="#555" stroke="#222" stroke-width="1"/>
<line x1="302.2" x2="325.1" y1="759.4" y2="759.4" stroke="#000" stroke-width="3.0"/>
<rect x="342.75" y="698.75" width="7.5" height="7.5" fill="#d0d0d0" stroke="#8c8c8c" stroke-width="1"/>
<rect x="347.15" y="698.75" width="7.5" height="7.5" fill="#d0d0d0" stroke="#8c8c8c" stroke-width="1"/>
<rect x="336.35" y="725.25" width="7.5" height="7.5" fill="#d0d0d0" stroke="#8c8c8c" stroke-width="1"/>
<rect x="343.05" y="725.25" width="7.5" height="7.5" fill="#d0d0d0" stroke="#8c8c8c" stroke-width="1"/>
<rect x="349.65" y="725.65" width="7.5" height="7.5" fill="#d0d0d0" stroke="#8c8c8c" stroke-width="1"/>
<rect x="339.95" y="733.05" width="7.5" height="7.5" fill="#d0d0d0" stroke="#8c8c8c" stroke-width="1"/>
<rect x="346.15" y="733.05" width="7.5" height="7.5" fill="#d0d0d0" stroke="#8c8c8c" stroke-width="1"/>
<rect x="352.35" y="733.05" width="7.5" height="7.5" fill="#d0d0d0" stroke="#8c8c8c" stroke-width="1"/>
<rect x="344.55" y="737.75" width="7.5" height="7.5" fill="#d0d0d0" stroke="#8c8c8c" stroke-width="1"/>
<rect x="347.75" y="745.55" width="7.5" height="7.5" fill="#d0d0d0" stroke="#8c8c8c" stroke-width="1"/>
<rect x="341.45" y="748.65" width="7.5" height="7.5" fill="#d0d0d0" stroke="#8c8c8c" stroke-width="1"/>
<line x1="336.6" x2="360" y1="732.5" y2="732.5" stroke="#000" stroke-width="3.0"/>
<path d="M315.22,701.20 L316.05,698.25 L313.95,698.25 L314.78,701.20Z M316.05,698.25 a1.05,1.05 0 1,0 -2.10,0 a1.05,1.05 0 1,0 2.10,0Z M315.07,701.41 L318.13,701.29 L317.48,699.29 L314.93,700.99Z M318.86,700.29 a1.05,1.05 0 1,0 -2.10,0 a1.05,1.05 0 1,0 2.10,0Z M314.82,701.33 L315.88,704.20 L317.58,702.97 L315.18,701.07Z M317.78,703.59 a1.05,1.05 0 1,0 -2.10,0 a1.05,1.05 0 1,0 2.10,0Z M314.82,701.07 L312.42,702.97 L314.12,704.20 L315.18,701.33Z M314.32,703.59 a1.05,1.05 0 1,0 -2.10,0 a1.05,1.05 0 1,0 2.10,0Z M315.07,700.99 L312.52,699.29 L311.87,701.29 L314.93,701.41Z M313.24,700.29 a1.05,1.05 0 1,0 -2.10,0 a1.05,1.05 0 1,0 2.10,0Z" fill="#000"/>
<circle cx="417.7" cy="758.1" r="4.0" fill="#222" stroke="#000" stroke-width="1"/>
<circle cx="415.4" cy="766.9" r="4.0" fill="#222" stroke="#000" stroke-width="1"/>
<circle cx="425.4" cy="766.5" r="4.0" fill="#222" stroke="#000" stroke-width="1"/>
<circle cx="410" cy="771.9" r="4.0" fill="#222" stroke="#000" stroke-width="1"/>
<circle cx="415.4" cy="775.4" r="4.0" fill="#222" stroke="#000" stroke-width="1"/>
<circle cx="410" cy="781.2" r="4.0" fill="#222" stroke="#000" stroke-width="1"/>
<circle cx="425.4" cy="781.5" r="4.0" fill="#222" stroke="#000" stroke-width="1"/>
<circle cx="415.4" cy="785.4" r="4.0" fill="#222" stroke="#000" stroke-width="1"/>
<circle cx="410" cy="788.8" r="4.0" fill="#222" stroke="#000" stroke-width="1"/>
<circle cx="420.4" cy="792.7" r="4.0" fill="#222" stroke="#000" stroke-width="1"/>
<circle cx="425.8" cy="791.9" r="4.0" fill="#222" stroke="#000" stroke-width="1"/>
<circle cx="410" cy="798.8" r="4.0" fill="#222" stroke="#000" stroke-width="1"/>
<line x1="406" x2="430" y1="780" y2="780" stroke="#000" stroke-width="3.0"/>
<rect x="448.85" y="772.35" width="7.5" height="7.5" fill="#555" stroke="#222" stroke-width="1"/>
<rect x="450.35" y="781.95" width="7.5" height="7.5" fill="#555" stroke="#222" stroke-width="1"/>
<rect x="446.35" y="784.45" width="7.5" height="7.5" fill="#555" stroke="#222" stroke-width="1"/>
<rect x="448.85" y="790.95" width="7.5" height="7.5" fill="#555" stroke="#222" stroke-width="1"/>
<rect x="441.35" y="799.55" width="7.5" height="7.5" fill="#555" stroke="#222" stroke-width="1"/>
<rect x="447.35" y="799.55" width="7.5" height="7.5" fill="#555" stroke="#222" stroke-width="1"/>
<rect x="455.85" y="800.55" width="7.5" height="7.5" fill="#555" stroke="#222" stroke-width="1"/>
<rect x="449.35" y="805.55" width="7.5" height="7.5" fill="#555" stroke="#222" stroke-width="1"/>
<rect x="446.85" y="813.05" width="7.5" height="7.5" fill="#555" stroke="#222" stroke-width="1"/>
<line x1="441" x2="463.6" y1="799.2" y2="799.2" stroke="#000" stroke-width="3.0"/>
<rect x="482.85" y="712.35" width="7.5" height="7.5" fill="#d0d0d0" stroke="#8c8c8c" stroke-width="1"/>
<rect x="480.85" y="726.35" width="7.5" height="7.5" fill="#d0d0d0" stroke="#8c8c8c" stroke-width="1"/>
<rect x="485.35" y="728.85" width="7.5" height="7.5" fill="#d0d0d0" stroke="#8c8c8c" stroke-width="1"/>
<rect x="475.85" y="731.35" width="7.5" height="7.5" fill="#d0d0d0" stroke="#8c8c8c" stroke-width="1"/>
<rect x="490.85" y="730.85" width="7.5" height="7.5" fill="#d0d0d0" stroke="#8c8c8c" stroke-width="1"/>
<rect x="479.85" y="739.45" width="7.5" height="7.5" fill="#d0d0d0" stroke="#8c8c8c" stroke-width="1"/>
<rect x="485.85" y="739.45" width="7.5" height="7.5" fill="#d0d0d0" stroke="#8c8c8c" stroke-width="1"/>
<rect x="485.85" y="754.95" width="7.5" height="7.5" fill="#d0d0d0" stroke="#8c8c8c" stroke-width="1"/>
<rect x="480.85" y="757.45" width="7.5" height="7.5" fill="#d0d0d0" stroke="#8c8c8c" stroke-width="1"/>
<line x1="475" x2="498.1" y1="739.7" y2="739.7" stroke="#000" stroke-width="3.0"/>
<path d="M417.52,740.90 L418.35,737.95 L416.25,737.95 L417.08,740.90Z M418.35,737.95 a1.05,1.05 0 1,0 -2.10,0 a1.05,1.05 0 1,0 2.10,0Z M417.37,741.11 L420.43,740.99 L419.78,738.99 L417.23,740.69Z M421.16,739.99 a1.05,1.05 0 1,0 -2.10,0 a1.05,1.05 0 1,0 2.10,0Z M417.12,741.03 L418.18,743.90 L419.88,742.67 L417.48,740.77Z M420.08,743.29 a1.05,1.05 0 1,0 -2.10,0 a1.05,1.05 0 1,0 2.10,0Z M417.12,740.77 L414.72,742.67 L416.42,743.90 L417.48,741.03Z M416.62,743.29 a1.05,1.05 0 1,0 -2.10,0 a1.05,1.05 0 1,0 2.10,0Z M417.37,740.69 L414.82,738.99 L414.17,740.99 L417.23,741.11Z M415.54,739.99 a1.05,1.05 0 1,0 -2.10,0 a1.05,1.05 0 1,0 2.10,0Z" fill="#000"/>
<path d="M449.42,758.00 L450.25,755.25 L448.15,755.25 L448.98,758.00Z M450.25,755.25 a1.05,1.05 0 1,0 -2.10,0 a1.05,1.05 0 1,0 2.10,0Z M449.31,758.19 L452.11,757.53 L451.06,755.72 L449.09,757.81Z M452.63,756.62 a1.05,1.05 0 1,0 -2.10,0 a1.05,1.05 0 1,0 2.10,0Z M449.09,758.19 L451.06,760.28 L452.11,758.47 L449.31,757.81Z M452.63,759.38 a1.05,1.05 0 1,0 -2.10,0 a1.05,1.05 0 1,0 2.10,0Z M448.98,758.00 L448.15,760.75 L450.25,760.75 L449.42,758.00Z M450.25,760.75 a1.05,1.05 0 1,0 -2.10,0 a1.05,1.05 0 1,0 2.10,0Z M449.09,757.81 L446.29,758.47 L447.34,760.28 L449.31,758.19Z M447.87,759.38 a1.05,1.05 0 1,0 -2.10,0 a1.05,1.05 0 1,0 2.10,0Z M449.31,757.81 L447.34,755.72 L446.29,757.53 L449.09,758.19Z M447.87,756.62 a1.05,1.05 0 1,0 -2.10,0 a1.05,1.05 0 1,0 2.10,0Z" fill="#000"/>
<text x="455.1" y="767.8" font-size="19" text-anchor="start">#</text>
</svg>
</body></html>
